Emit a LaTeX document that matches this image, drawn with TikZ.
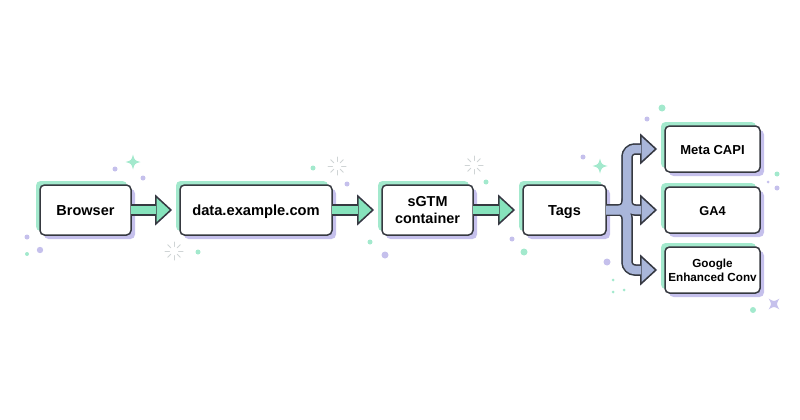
\documentclass[tikz,border=0pt]{standalone}
\usepackage{fontspec}
\setmainfont{Liberation Sans}
\usetikzlibrary{arrows.meta, positioning, shadows}

\definecolor{ink}{HTML}{363940}
\definecolor{mint}{HTML}{A3E9CD}
\definecolor{lilac}{HTML}{C5C0EC}
\definecolor{arrowmint}{HTML}{86E3BC}
\definecolor{arrowblue}{HTML}{A9B6DA}
\definecolor{rays}{HTML}{CFD4D5}

\begin{document}
\begin{tikzpicture}[x=1pt, y=-1pt]
	\tikzset{
		box/.style={draw=ink, line width=1.5pt, fill=white, rounded corners=4.5pt, inner sep=0pt, outer sep=0pt, minimum height=50pt,
			general shadow={shadow xshift=-4pt, shadow yshift=4pt, fill=mint},
			general shadow={shadow xshift=4pt, shadow yshift=-4pt, fill=lilac}},
		smallbox/.style={box, minimum width=95pt, minimum height=46pt},
		oneline/.style={text height=#1, text depth=0pt},
		arrowedge/.style={line width=11.5pt, draw=ink, rounded corners=8pt, shorten >=8pt, -{Triangle[length=17pt, width=31pt, line width=1.5pt, color=ink, fill=#1]}},
		arrowcore/.style={line width=8.5pt, draw=#1, rounded corners=8pt, shorten >=24pt},
		arrowshade/.style={xshift=3.5pt, yshift=-3.5pt, line width=11.5pt, draw=lilac, rounded corners=8pt, shorten >=8pt, -{Triangle[length=17pt, width=31pt, line width=1.5pt, color=lilac, fill=lilac]}},
		sparkle/.pic={\path[pic actions] (0,-7.5) .. controls (1.6,-1.6) .. (7.5,0) .. controls (1.6,1.6) .. (0,7.5) .. controls (-1.6,1.6) .. (-7.5,0) .. controls (-1.6,-1.6) .. (0,-7.5) -- cycle;},
		sunburst/.pic={\foreach \a in {0,45,...,315} {\draw[rays, line width=1pt, line cap=round] (\a:4.5) -- (\a:9);}}
	}

	\useasboundingbox (0,0) rectangle (800,420);

	\node[box, oneline=10.6pt, minimum width=91pt, font=\bfseries\fontsize{14.5}{17}\selectfont] (browser) at (85.5,210) {Browser};
	\node[box, oneline=10.6pt, minimum width=152pt, right=49pt of browser, font=\bfseries\fontsize{14.7}{17}\selectfont] (data) {data.example.com};
	\node[box, minimum width=91pt, right=50pt of data, align=center, font=\bfseries\fontsize{14.4}{17}\selectfont] (sgtm) {sGTM\\container};
	\node[box, oneline=10.6pt, minimum width=83pt, right=50pt of sgtm, font=\bfseries\fontsize{14.5}{17}\selectfont] (tags) {Tags};
	\node[smallbox, oneline=10pt, right=59pt of tags, font=\bfseries\fontsize{12.8}{15}\selectfont] (ga4) {GA4};
	\node[smallbox, oneline=11pt, above=15pt of ga4, font=\bfseries\fontsize{13}{15}\selectfont] (meta) {Meta CAPI};
	\node[smallbox, below=14pt of ga4, align=center, font=\bfseries\fontsize{11.7}{14}\selectfont] (google) {Google\\Enhanced Conv};
	\coordinate[right=21pt of tags] (split);

	% straight arrows
	\foreach \from/\to in {browser/data, data/sgtm, sgtm/tags} {
		\draw[arrowshade] (\from.east) -- (\to.west);
		\draw[arrowedge=arrowmint] (\from.east) -- (\to.west);
		\draw[arrowcore=arrowmint] (\from.east) -- (\to.west);
	}

	% branching arrow
	\foreach \to in {meta, google} {
		\draw[xshift=-3pt, line width=11.5pt, draw=mint, rounded corners=8pt, shorten <=10pt, shorten >=30pt] (tags.east) -- (split) |- (\to.west);
	}
	\foreach \to in {meta, ga4, google} {
		\draw[arrowshade] (tags.east) -- (split) |- (\to.west);
	}
	\foreach \to in {meta, ga4, google} {
		\draw[arrowedge=arrowblue] (tags.east) -- (split) |- (\to.west);
	}
	\foreach \to in {meta, ga4, google} {
		\draw[arrowcore=arrowblue] (tags.east) -- (split) |- (\to.west);
	}

	% sparkles
	\pic[fill=mint] at (133,162) {sparkle};
	\pic[fill=mint] at (600,166) {sparkle};
	\pic[fill=lilac, rotate=45] at (774,304) {sparkle};
	\pic at (174,251) {sunburst};
	\pic at (337,166) {sunburst};
	\pic at (474,165) {sunburst};

	% dots
	\foreach \px/\py/\r in {115/169/2.5, 143/178/2.5, 27/237/2.5, 40/250/3.2, 347/184/2.5, 385/255/3.5, 512/239/2.5, 583/157/2.5, 647/119/2.5, 768/182/1.5, 777/188/2.5, 607/262/3.5} {
		\fill[lilac] (\px,\py) circle (\r);
	}
	\foreach \px/\py/\r in {27/254/2, 198/252/2.5, 313/168/2.5, 486/182/2.5, 370/242/2.5, 524/252/3.5, 662/108/3.5, 777/174/2.5, 613/280/1.5, 613/292/1.5, 624/290/1.5, 753/310/3} {
		\fill[mint] (\px,\py) circle (\r);
	}
\end{tikzpicture}
\end{document}
